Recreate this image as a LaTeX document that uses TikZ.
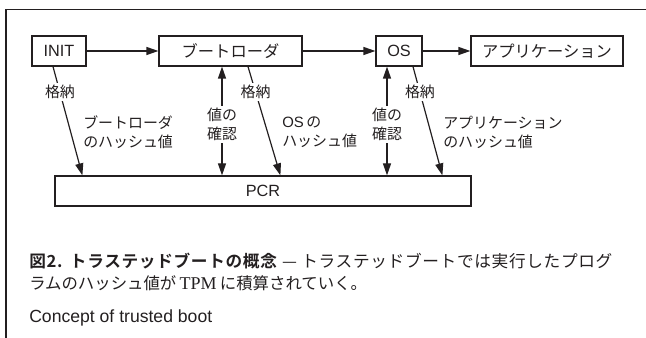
\documentclass[tikz,border=0pt]{standalone}
\usepackage{fontspec}
\setmainfont{Liberation Sans}
\newfontfamily\jp{Noto Sans CJK JP}[BoldFont={Noto Sans CJK JP Bold}]
\newfontfamily\jpsp{Noto Sans CJK JP}[BoldFont={Noto Sans CJK JP Bold},LetterSpace=4]
\newfontfamily\ser{Liberation Serif}
\usetikzlibrary{arrows.meta,calc}
\definecolor{ink}{HTML}{231F20}
\begin{document}
\begin{tikzpicture}[x=0.75pt,y=-0.75pt,
  box/.style={draw=ink,line width=0.9pt,minimum height=22.5pt,inner sep=0pt,text=ink,font=\fontsize{12.2}{14}\selectfont},
  arr/.style={draw=ink,line width=0.9pt,-{Triangle[length=9pt,width=6pt]}},
  lab/.style={text=ink,font=\jp\fontsize{11.2}{14}\selectfont,inner sep=0pt},
  cut/.style={lab,fill=white,inner sep=1.5pt},
  verify/.style={lab,align=center,inner xsep=0pt,inner ysep=1.6pt},
  hash/.style={lab,align=left,anchor=west},
  capt/.style={anchor=west,inner sep=0pt,text=ink}]
\useasboundingbox (0,0) rectangle (646,338);
% frame
\draw[ink,line width=0.9pt] (646,9.3) -- (6,9.3) -- (6,338);
% boxes
\node[box,minimum width=40.5pt] (INIT) at (59,51) {INIT};
\node[box,minimum width=107.25pt] (BOOT) at (230.5,51) {\jp ブートローダ};
\node[box,minimum width=34.5pt] (OS) at (399,51) {OS};
\node[box,minimum width=114pt] (APP) at (547,51) {\jp アプリケーション};
\node[box,minimum width=312pt] (PCR) at (263,191) {PCR};
% horizontal flow
\draw[arr] (INIT) -- (BOOT);
\draw[arr] (BOOT) -- (OS);
\draw[arr] (OS) -- (APP);
% store lines
\draw[arr] ($(INIT.south)+(-6,0)$) -- node[cut,pos=0.236] (s1) {格納} ($(PCR.north west)+(28,0)$);
\draw[arr] ($(BOOT.south)+(17.5,0)$) -- node[cut,pos=0.236] (s2) {格納} ($(PCR.north west)+(226,0)$);
\draw[arr] ($(OS.south)+(14,0)$) -- node[cut,pos=0.236] (s3) {格納} ($(PCR.north west)+(388,0)$);
% verify
\node[verify] (v1) at (222,124.5) {値の\\確認};
\draw[arr] (v1.north) -- (v1.north |- BOOT.south);
\draw[arr] (v1.south) -- (v1.south |- PCR.north);
\node[verify] (v2) at (387,124.5) {値の\\確認};
\draw[arr] (v2.north) -- (v2.north |- OS.south);
\draw[arr] (v2.south) -- (v2.south |- PCR.north);
% hash labels
\node[hash] (h1) at (83,132.5) {ブートローダ\\のハッシュ値};
\node[hash] (h2) at (282,132.5) {{\fontspec{Liberation Sans}OS}\,の\\ハッシュ値};
\node[hash] (h3) at (443,132.5) {アプリケーション\\のハッシュ値};
% caption
\node[capt,font=\jpsp\fontsize{12.5}{15}\selectfont] (c1) at (29,261)
  {\textbf{図2.\hspace{0.45em}トラステッドブートの概念} — トラステッドブートでは実行したプログ};
\node[capt,font=\jp\fontsize{12.3}{15}\selectfont] (c2) at (29,283)
  {ラムのハッシュ値が\hspace{0.2em}{\ser\fontsize{13.5}{15}\selectfont TPM}\hspace{0.2em}に積算されていく。};
\node[capt,font=\fontsize{13.2}{15}\selectfont] (c3) at (29,318)
  {Concept of trusted boot};
\end{tikzpicture}
\end{document}
